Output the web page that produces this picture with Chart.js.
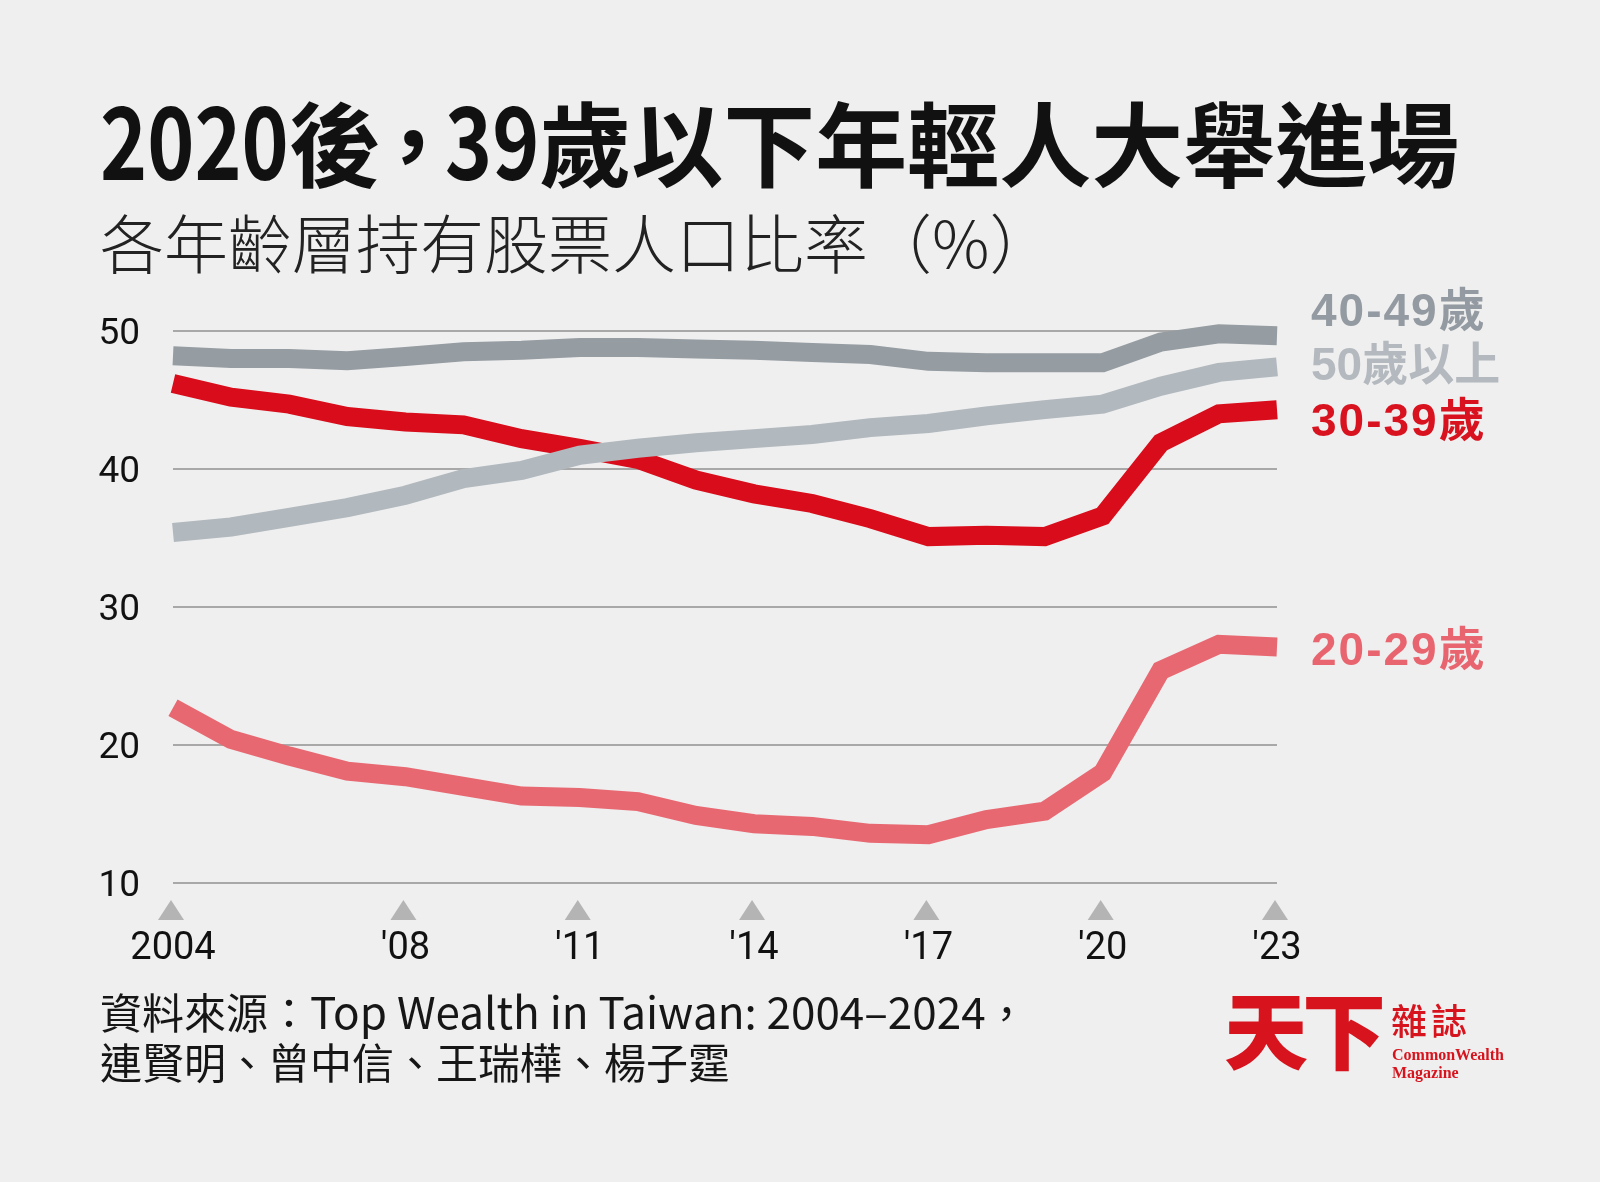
<!DOCTYPE html>
<html>
<head>
<meta charset="utf-8">
<script src="https://cdn.jsdelivr.net/npm/chart.js@4.4.1/dist/chart.umd.min.js"></script>
<style>
  body { margin: 0; background: #efefef; }
  #wrap { position: relative; width: 1600px; height: 1182px; overflow: hidden; background: #efefef; }
  #c { position: absolute; left: 0; top: 0; }
  .txt { position: absolute; white-space: nowrap; line-height: 1; }
  #title { left: 100px; top: 87px; font-family: "Noto Sans CJK TC"; font-weight: 700; font-size: 92px; color: #111; }
  #title .n { display: inline-block; font-family: "Noto Sans CJK TC"; font-size: 100px; transform-origin: 0 0; }
  #sub { left: 100px; top: 208px; font-family: "Noto Sans CJK TC"; font-weight: 300; font-size: 64px; color: #222; }
  .lab { left: 1311px; font-family: "Liberation Sans", "Noto Sans CJK TC"; font-weight: 700; font-size: 46px; }
  .sp { letter-spacing: 2px; }
  #src { left: 100px; top: 985px; font-family: "Noto Sans CJK TC"; font-weight: 400; font-size: 42px; color: #161616; line-height: 50px; }
  #src .lat { font-family: "Liberation Sans Narrow", "Noto Sans CJK TC"; font-size: 44px; }
  #logo1 { left: 1224px; top: 985px; font-family: "Noto Sans CJK TC"; font-weight: 900; font-size: 84px; color: #d7141e; letter-spacing: -6px; }
  #logo2 { left: 1391px; top: 1001px; font-family: "Noto Sans CJK TC"; font-weight: 500; font-size: 36px; color: #d7141e; letter-spacing: 4px; }
  #logo3 { left: 1392px; top: 1046px; font-family: "Liberation Serif", "DejaVu Serif"; font-weight: 700; font-size: 16px; color: #d7141e; line-height: 18px; }
</style>
</head>
<body>
<div id="wrap">
  <canvas id="c" width="1600" height="1182"></canvas>
  <div class="txt" id="title"><span class="n">2020</span>後<span style="margin:0 -14px">，</span><span class="n">39</span>歲以下年輕人大舉進場</div>
  <div class="txt" id="sub">各年齡層持有股票人口比率（%）</div>
  <div class="txt lab sp" style="top:287px;color:#939aa1">40-49歲</div>
  <div class="txt lab" style="top:341px;color:#b3b9be">50歲以上</div>
  <div class="txt lab sp" style="top:397px;color:#d9121f">30-39歲</div>
  <div class="txt lab sp" style="top:626px;color:#e8656f">20-29歲</div>
  <div class="txt" id="src">資料來源：<span class="lat">Top Wealth in Taiwan: 2004–2024</span>，<br>連賢明、曾中信、王瑞樺、楊子霆</div>
  <div class="txt" id="logo1">天下</div>
  <div class="txt" id="logo2">雜誌</div>
  <div class="txt" id="logo3">CommonWealth<br>Magazine</div>
</div>
<script>
(() => {
  'use strict'

  // data (% of each age group holding stocks)
  const years = ['2004', '2005', '2006', '2007', '2008', '2009', '2010', '2011', '2012', '2013',
    '2014', '2015', '2016', '2017', '2018', '2019', '2020', '2021', '2022', '2023']
  const age20to29 = [22.7, 20.4, 19.2, 18.1, 17.7, 17.0, 16.3, 16.2, 15.9, 14.9,
    14.3, 14.1, 13.6, 13.5, 14.6, 15.2, 18.0, 25.4, 27.3, 27.1]
  const age30to39 = [46.2, 45.2, 44.7, 43.8, 43.4, 43.2, 42.2, 41.5, 40.7, 39.2,
    38.2, 37.5, 36.4, 35.1, 35.2, 35.1, 36.6, 41.9, 44.0, 44.3]
  const age40to49 = [48.2, 48.0, 48.0, 47.85, 48.15, 48.5, 48.6, 48.8, 48.8, 48.7,
    48.6, 48.45, 48.3, 47.8, 47.7, 47.7, 47.7, 49.2, 49.8, 49.65]
  const age50plus = [35.4, 35.8, 36.5, 37.2, 38.1, 39.3, 39.9, 41.0, 41.5, 41.9,
    42.2, 42.5, 43.0, 43.3, 43.85, 44.3, 44.7, 46.0, 47.0, 47.4]

  const tickYears = ['2004', '2008', '2011', '2014', '2017', '2020', '2023']
  const tickText = ['2004', "'08", "'11", "'14", "'17", "'20", "'23"]
  const yTicks = [10, 20, 30, 40, 50]

  const numFont = 'Roboto, "Liberation Sans", sans-serif'

  // squeeze the title digits a bit (the original uses a condensed face)
  document.querySelectorAll('#title .n').forEach(el => {
    const w = el.getBoundingClientRect().width
    el.style.transform = 'scaleX(0.8)'
    el.style.marginRight = (-0.2 * w) + 'px'
  })

  // little grey triangles above the labelled years
  const triangles = {
    id: 'triangles',
    afterDraw (chart) {
      const x = chart.scales.x
      const c = chart.ctx
      const top = chart.chartArea.bottom + 17
      c.save()
      c.fillStyle = '#b4b4b4'
      tickYears.forEach(yr => {
        const px = x.getPixelForValue(years.indexOf(yr)) - 2
        c.beginPath()
        c.moveTo(px, top)
        c.lineTo(px + 13, top + 20)
        c.lineTo(px - 13, top + 20)
        c.closePath()
        c.fill()
      })
      c.restore()
    }
  }

  const line = (data, color, order) => ({
    data,
    borderColor: color,
    borderWidth: 19,
    borderJoinStyle: 'miter',
    borderCapStyle: 'butt',
    pointRadius: 0,
    tension: 0,
    fill: false,
    clip: false,
    order
  })

  new Chart(document.getElementById('c'), {
    type: 'line',
    data: {
      labels: years,
      datasets: [
        line(age20to29, '#e86872', 4),
        line(age30to39, '#d80c1a', 3),
        line(age50plus, '#b1b8be', 2),
        line(age40to49, '#959ca2', 1)
      ]
    },
    plugins: [triangles],
    options: {
      responsive: false,
      animation: false,
      devicePixelRatio: 1,
      layout: { padding: { left: 90, right: 323, top: 331, bottom: 199 } },
      plugins: { legend: { display: false }, tooltip: { enabled: false } },
      scales: {
        x: {
          offset: false,
          afterFit: s => { s.height = 100 },
          grid: { display: false, drawTicks: false },
          border: { display: false },
          ticks: {
            autoSkip: false,
            maxRotation: 0,
            padding: 44,
            color: '#111',
            font: { family: numFont, size: 38 },
            callback: function (v) {
              const i = tickYears.indexOf(years[v])
              return i < 0 ? '' : tickText[i]
            }
          }
        },
        y: {
          min: 10,
          max: 50,
          afterFit: s => { s.width = 83 },
          afterBuildTicks: s => { s.ticks = yTicks.map(v => ({ value: v })) },
          grid: { color: '#a8a8a8', lineWidth: 2, drawTicks: false },
          border: { display: false },
          ticks: {
            padding: 33,
            labelOffset: 4,
            color: '#111',
            font: { family: numFont, size: 37 }
          }
        }
      }
    }
  })
})()
</script>
</body>
</html>
